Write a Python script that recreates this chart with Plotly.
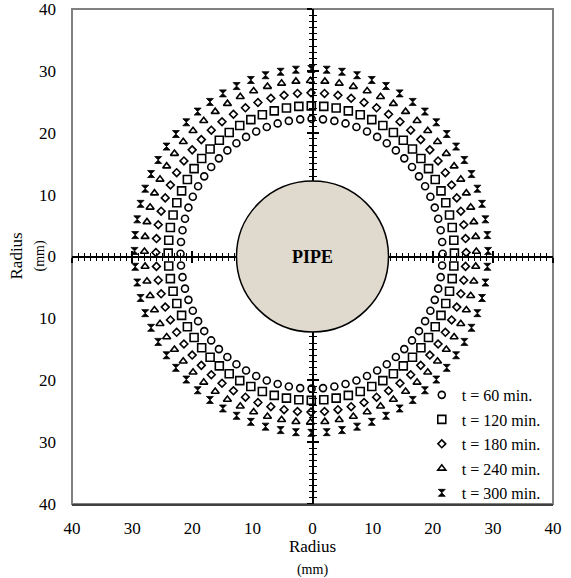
import math
import plotly.graph_objects as go

# ---------------- data ----------------
angles_deg = list(range(0, 360, 5))                     # measurement directions around the pipe
series_names = ["t = 60 min.", "t = 120 min.", "t = 180 min.", "t = 240 min.", "t = 300 min."]
front_radius = [21.8, 23.8, 25.8, 27.6, 29.4]           # mm, radius of each front
front_center_x = [-0.15, -0.20, -0.25, -0.35, -0.20]    # mm, centre offset of each front
front_center_y = [0.45, 0.55, 0.65, 0.80, 0.90]
pipe_label = "PIPE"
axis_title = "Radius"
axis_unit = "(mm)"
tick_vals = [-40, -30, -20, -10, 0, 10, 20, 30, 40]
tick_text = ["40", "30", "20", "10", "0", "10", "20", "30", "40"]

# ---------------- styles ----------------
symbols = ["circle-open", "square-open", "diamond-open", "triangle-up-open", "hourglass"]
sizes = [7, 8, 6, 7, 7]
FONT = "Liberation Serif"

fig = go.Figure()
for name, r, cx, cy, sym, sz in zip(series_names, front_radius, front_center_x,
                                    front_center_y, symbols, sizes):
    xs = [cx + r * math.cos(math.radians(a)) for a in angles_deg]
    ys = [cy + r * math.sin(math.radians(a)) for a in angles_deg]
    fig.add_trace(go.Scatter(
        x=xs, y=ys, mode="markers", name=name, legendgroup=name,
        marker=dict(symbol=sym, size=sz, color="black",
                    line=dict(color="black", width=1.6 if sym != "hourglass" else 0.8)),
    ))

# empty traces to activate the crossing centre axes
for k in (2, 3):
    fig.add_trace(go.Scatter(x=[], y=[], xaxis=f"x{k}", yaxis=f"y{k}",
                             showlegend=False, hoverinfo="skip"))

main_ax = dict(range=[-40, 40], tickvals=tick_vals, ticktext=tick_text,
               showgrid=False, zeroline=False, ticks="", automargin=False,
               tickfont=dict(family=FONT, size=17, color="black"),
               ticklabeloverflow="allow", fixedrange=True)

fig.update_layout(
    xaxis=dict(**main_ax, showline=True, linecolor="#404040", linewidth=2,
               ticklabelstandoff=8,
               title=dict(text=f"{axis_title}<br><span style='font-size:14px'>{axis_unit}</span>",
                          font=dict(family=FONT, size=17, color="black"), standoff=6)),
    yaxis=dict(**main_ax, ticklabelstandoff=15),
)

center_common = dict(range=[-40, 40], showgrid=False, zeroline=False, showticklabels=False,
                     showline=True, linecolor="black", linewidth=2, automargin=False,
                     dtick=10, tick0=0, ticklen=5, tickwidth=1.5, tickcolor="black",
                     anchor="free", position=0.5, layer="below traces", fixedrange=True)
minor_out = dict(dtick=1, tick0=0, ticklen=3, tickwidth=1, tickcolor="black", ticks="outside")
minor_in = dict(minor_out, ticks="inside")
fig.update_layout(
    xaxis2=dict(**center_common, minor=minor_out, overlaying="x", ticks="outside", side="bottom"),
    xaxis3=dict(**center_common, minor=minor_in, overlaying="x", ticks="inside", side="bottom"),
    yaxis2=dict(**center_common, minor=minor_out, overlaying="y", ticks="outside", side="left"),
    yaxis3=dict(**center_common, minor=minor_in, overlaying="y", ticks="inside", side="left"),
)

# y-axis title (two lines, rotated)
fig.add_annotation(xref="paper", yref="paper", x=0, y=0.5, xanchor="center", yanchor="middle",
                   xshift=-45, textangle=-90, showarrow=False,
                   text=f"{axis_title}<br><span style='font-size:14px'>{axis_unit}</span>",
                   font=dict(family=FONT, size=17, color="black"))

# frame and pipe
fig.add_shape(type="rect", xref="paper", yref="paper", x0=0, x1=1, y0=0, y1=1,
              line=dict(color="#808080", width=2), layer="below")
fig.add_shape(type="circle", xref="x", yref="y", xsizemode="pixel", ysizemode="pixel",
              xanchor=0, yanchor=0, x0=-76, x1=76, y0=-75.5, y1=75.5,
              fillcolor="#e0d9cd", line=dict(color="black", width=1.5), layer="above")
fig.add_annotation(x=0, y=0, xref="x", yref="y", text=f"<b>{pipe_label}</b>", showarrow=False,
                   font=dict(family=FONT, size=18, color="black"))

fig.update_layout(
    width=571, height=578,
    margin=dict(l=72, r=18, t=9, b=74, autoexpand=False),
    paper_bgcolor="white", plot_bgcolor="white",
    font=dict(family=FONT, color="black"),
    legend=dict(x=0.985, xanchor="right", y=-0.012, yanchor="bottom",
                bgcolor="rgba(0,0,0,0)", font=dict(family=FONT, size=16, color="black"),
                tracegroupgap=0.7, itemwidth=30),
    showlegend=True,
)

fig.write_html("out.html")
